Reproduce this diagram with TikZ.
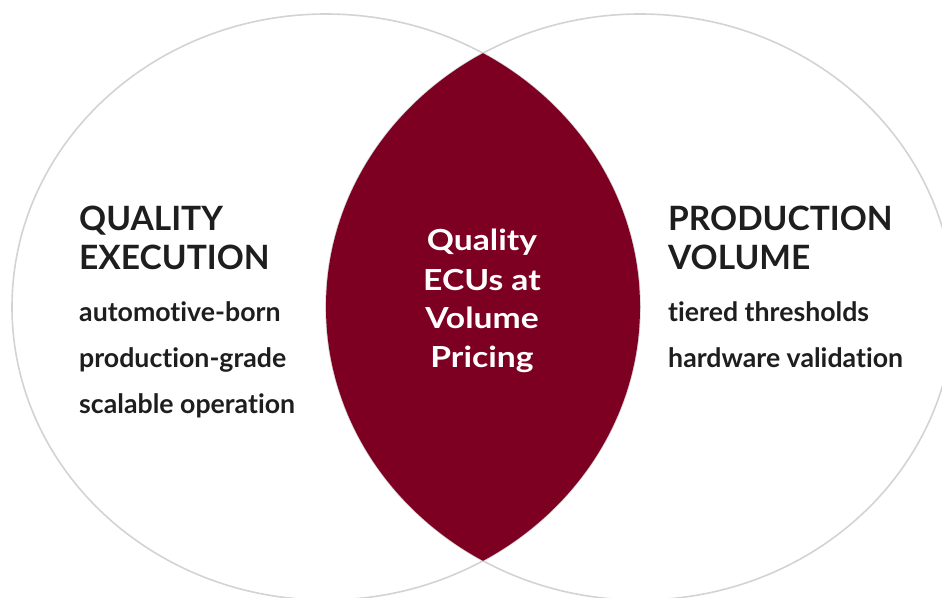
\documentclass[tikz,border=0pt]{standalone}
\usepackage{fontspec}
\setmainfont{Lato}[Ligatures=NoCommon]
\definecolor{ringgray}{HTML}{D3D3D3}
\definecolor{lensred}{HTML}{7D0022}
\definecolor{ink}{HTML}{1E1E1E}
\begin{document}
\begin{tikzpicture}[x=1pt,y=-1pt,
  ring/.style={draw=ringgray, line width=1.6pt},
  heading/.style={font=\fontsize{33.5}{38}\selectfont\bfseries, text=ink, anchor=base west, inner sep=0pt},
  item/.style={font=\fontsize{26.7}{30}\selectfont\bfseries, text=ink, anchor=base west, inner sep=0pt},
  core/.style={font=\fontsize{29}{33}\selectfont\bfseries\addfontfeature{FakeStretch=1.16}, text=white, anchor=base, inner sep=0pt}]
  \useasboundingbox (0,0) rectangle (942,597);
  % the two sets
  \draw[ring] (326,307) ellipse [x radius=314, y radius=293];
  \draw[ring] (640,307) ellipse [x radius=314, y radius=293];
  % shared region
  \begin{scope}
    \clip (326,307) ellipse [x radius=314, y radius=293];
    \fill[lensred] (640,307) ellipse [x radius=314, y radius=293];
  \end{scope}
  % left set
  \node[heading] (qe1) at (79,230) {QUALITY};
  \node[heading] (qe2) at (79,269) {EXECUTION};
  \node[item] (qa) at (79,321) {automotive-born};
  \node[item] (qb) at (79,367) {production-grade};
  \node[item] (qc) at (79,413) {scalable operation};
  % right set
  \node[heading] (pv1) at (668,230) {PRODUCTION};
  \node[heading] (pv2) at (668,269) {VOLUME};
  \node[item] (pa) at (668,321) {tiered thresholds};
  \node[item] (pb) at (668,367) {hardware validation};
  % overlap
  \node[core] (c1) at (482,250) {Quality};
  \node[core] (c2) at (482,290) {ECUs at};
  \node[core] (c3) at (482,328) {Volume};
  \node[core] (c4) at (482,367) {Pricing};
\end{tikzpicture}
\end{document}
